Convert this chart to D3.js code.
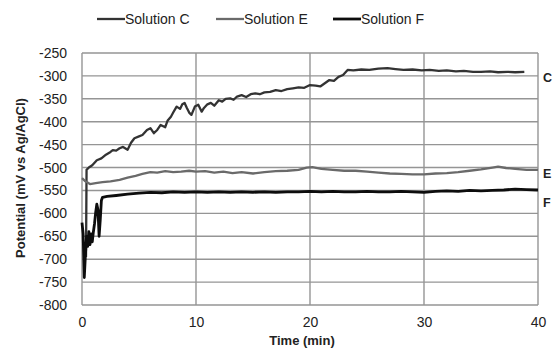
<!DOCTYPE html>
<html><head><meta charset="utf-8">
<script src="https://cdn.jsdelivr.net/npm/d3@7"></script>
<style>body{margin:0;background:#fff}svg{display:block}text{font-family:"Liberation Sans",Arial,sans-serif}</style>
</head><body>
<svg id="c" width="555" height="356"></svg>
<script>
const seriesNames = ["Solution C", "Solution E", "Solution F"];
const endLabels = ["C", "E", "F"];
const xTicks = [0, 10, 20, 30, 40];
const yTicks = [-250,-300,-350,-400,-450,-500,-550,-600,-650,-700,-750,-800];

const solutionC = [[0.35,-695],[0.4,-505],[0.6,-500],[0.9,-495],[1.3,-484],[1.7,-480],[2.1,-472],[2.5,-466],[2.7,-462],[3.0,-463],[3.3,-458],[3.6,-455],[4.0,-461],[4.3,-446],[4.6,-436],[5.0,-432],[5.3,-429],[5.7,-418],[6.0,-414],[6.3,-425],[6.6,-418],[6.9,-407],[7.3,-412],[7.5,-398],[7.8,-389],[8.0,-380],[8.3,-367],[8.6,-372],[8.8,-362],[9.0,-359],[9.2,-370],[9.4,-380],[9.6,-385],[9.9,-367],[10.2,-363],[10.5,-378],[10.7,-370],[11.0,-362],[11.3,-359],[11.6,-365],[12.0,-353],[12.3,-356],[12.6,-350],[13.0,-349],[13.3,-352],[13.6,-345],[14.0,-342],[14.4,-346],[14.8,-340],[15.2,-338],[15.6,-340],[16.0,-336],[16.5,-335],[17.0,-331],[17.5,-333],[18.0,-329],[18.5,-327],[19.0,-325],[19.5,-326],[20.0,-320],[20.5,-321],[20.9,-323],[21.3,-316],[21.7,-309],[22.1,-311],[22.5,-302],[22.9,-298],[23.3,-287],[23.8,-288],[24.5,-286],[25.2,-287],[26.0,-284],[26.8,-283],[27.5,-285],[28.2,-287],[29.0,-286],[29.8,-288],[30.5,-287],[31.3,-289],[32.0,-288],[32.8,-290],[33.5,-289],[34.3,-291],[35.0,-291],[35.8,-290],[36.5,-292],[37.3,-291],[38.0,-292],[38.8,-291]];

const solutionE = [[0,-523],[0.3,-530],[0.7,-536],[1.2,-534],[1.8,-532],[2.5,-530],[3.3,-527],[4.0,-522],[4.7,-518],[5.3,-514],[6.0,-510],[6.6,-511],[7.3,-508],[8.0,-510],[8.7,-509],[9.4,-507],[10,-509],[10.8,-508],[11.6,-511],[12.4,-509],[13.2,-512],[14,-510],[15,-513],[16,-510],[17,-508],[18,-507],[19,-505],[19.7,-500],[20.2,-499],[21,-503],[22,-505],[23,-507],[24,-507],[25,-509],[26,-511],[27,-513],[28,-514],[29,-515],[30,-515],[31,-513],[32,-512],[33,-510],[34,-507],[35,-504],[36,-500],[36.5,-498],[37.2,-501],[38,-503],[39,-505],[40,-505]];

const solutionF = [[0,-620],[0.1,-645],[0.2,-740],[0.3,-690],[0.4,-650],[0.5,-672],[0.6,-640],[0.7,-668],[0.8,-645],[0.9,-662],[1.0,-640],[1.1,-622],[1.2,-598],[1.3,-580],[1.4,-592],[1.5,-650],[1.6,-615],[1.7,-572],[1.8,-565],[2.2,-563],[3,-561],[4,-558],[5,-556],[6,-554],[7,-555],[8,-553],[9,-554],[10,-553],[11,-554],[12,-553],[13,-554],[14,-553],[15,-554],[16,-553],[17,-554],[18,-553],[19,-553],[20,-552],[21,-553],[22,-552],[23,-553],[24,-553],[25,-552],[26,-553],[27,-553],[28,-552],[29,-553],[30,-554],[31,-552],[32,-551],[33,-552],[34,-550],[35,-551],[36,-550],[37,-549],[38,-547],[39,-548],[40,-549]];

const data = [solutionC, solutionE, solutionF];
const colors = ["#333333", "#6a6a6a", "#0d0d0d"];
const widths = [2.3, 2.3, 2.8];

const svg = d3.select("#c");
const m = {l:82, r:538, t:53, b:305};
const x = d3.scaleLinear().domain([0,40]).range([m.l, m.r]);
const y = d3.scaleLinear().domain([-800,-250]).range([m.b, m.t]);

// grid
svg.append("g").selectAll("line").data(yTicks).join("line")
  .attr("x1", m.l).attr("x2", m.r).attr("y1", d=>y(d)).attr("y2", d=>y(d))
  .attr("stroke", "#959595").attr("stroke-width", 1.4);
svg.append("g").selectAll("line").data(xTicks).join("line")
  .attr("y1", m.t).attr("y2", m.b).attr("x1", d=>x(d)).attr("x2", d=>x(d))
  .attr("stroke", "#959595").attr("stroke-width", 1.4);

const fmt = d => String(d);
const yAxis = d3.axisLeft(y).tickValues(yTicks).tickFormat(fmt).tickSize(0).tickPadding(15);
const ga = svg.append("g").attr("transform", `translate(${m.l},0)`).call(yAxis);
ga.select(".domain").remove();
ga.selectAll("text").attr("font-size", 14).attr("fill", "#222").style("font-family","'Liberation Sans',Arial,sans-serif");

const xAxis = d3.axisBottom(x).tickValues(xTicks).tickFormat(fmt).tickSize(0).tickPadding(12);
const gx = svg.append("g").attr("transform", `translate(0,${m.b})`).call(xAxis);
gx.select(".domain").remove();
gx.selectAll("text").attr("font-size", 14).attr("fill", "#222").style("font-family","'Liberation Sans',Arial,sans-serif");

svg.append("text").attr("x", 302).attr("y", 345).attr("text-anchor","middle")
  .attr("font-size", 13).attr("font-weight","bold").attr("fill","#222").text("Time (min)");
svg.append("text").attr("transform", "translate(25,178) rotate(-90)").attr("text-anchor","middle")
  .attr("font-size", 13).attr("font-weight","bold").attr("fill","#222").text("Potential (mV vs Ag/AgCl)");

const line = d3.line().x(d=>x(d[0])).y(d=>y(d[1]));
data.forEach((s,i)=>{
  svg.append("path").datum(s).attr("d", line).attr("fill","none")
    .attr("stroke", colors[i]).attr("stroke-width", widths[i]).attr("stroke-linejoin","round");
});

const endY = [solutionC[solutionC.length-1][1], solutionE[solutionE.length-1][1], solutionF[solutionF.length-1][1]];
const endOff = [10, 8, 17];
endLabels.forEach((l,i)=>{
  svg.append("text").attr("x", m.r+5).attr("y", y(endY[i])+endOff[i]).attr("font-size",12.5)
    .attr("font-weight","bold").attr("fill","#222").text(l);
});

const legX = [97, 216, 333];
seriesNames.forEach((n,i)=>{
  svg.append("line").attr("x1", legX[i]).attr("x2", legX[i]+28).attr("y1", 19).attr("y2", 19)
    .attr("stroke", colors[i]).attr("stroke-width", widths[i]);
  svg.append("text").attr("x", legX[i]+28).attr("y", 24).attr("font-size", 14)
    .attr("fill","#222").text(n);
});
</script>
</body></html>
